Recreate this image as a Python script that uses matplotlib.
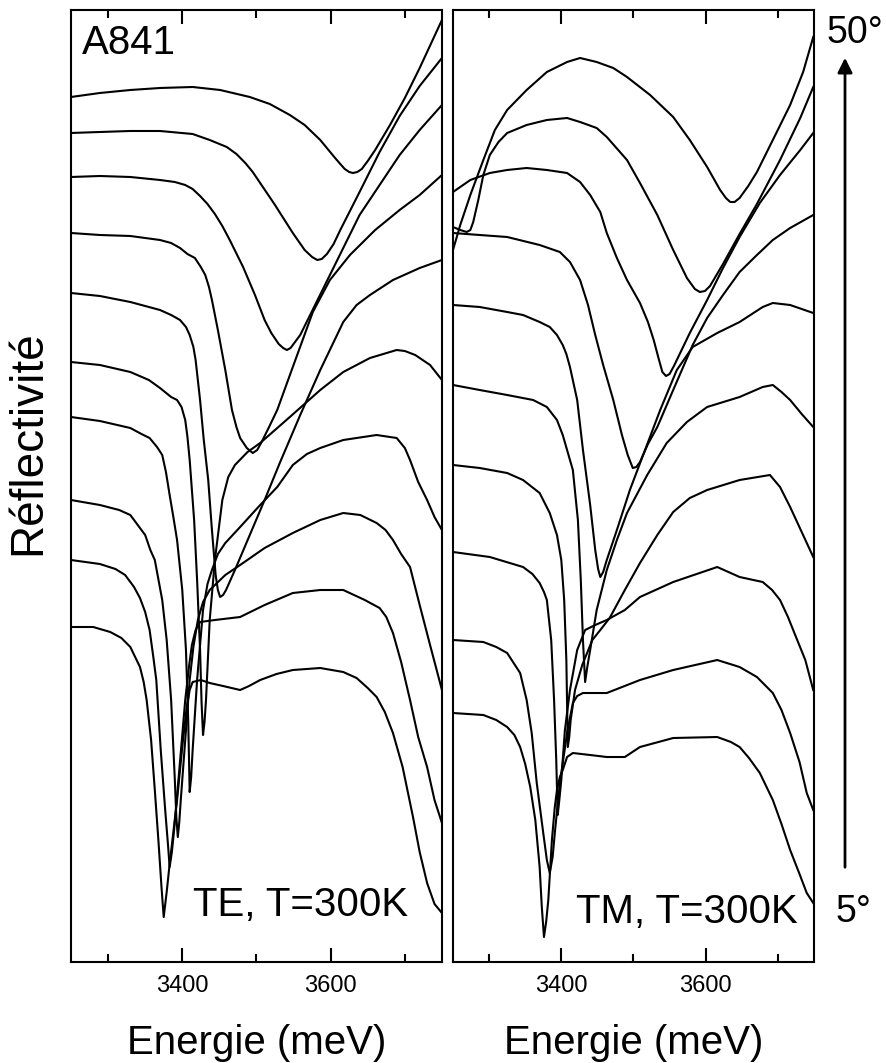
import matplotlib
matplotlib.use("Agg")
import matplotlib.pyplot as plt
from matplotlib.ticker import MultipleLocator

plt.rcParams['font.family'] = ['Liberation Sans', 'DejaVu Sans']

# ---- TE spectra (energy in meV, reflectivity with offset, arb. units), 5deg -> 50deg
te_e = [
    [3250, 3280, 3303, 3318, 3330, 3343, 3348, 3352, 3358, 3363, 3368, 3372, 3375, 3379, 3383, 3388,
     3393, 3400, 3406, 3410, 3414, 3425, 3437, 3455, 3478, 3490, 3505, 3527, 3549, 3586, 3617, 3635,
     3650, 3662, 3673, 3684, 3697, 3711, 3720, 3730, 3740, 3750],
    [3250, 3289, 3310, 3323, 3335, 3343, 3350, 3356, 3361, 3365, 3371, 3377, 3381, 3383, 3386, 3389,
     3396, 3404, 3409, 3413, 3418, 3424, 3444, 3478, 3511, 3549, 3586, 3617, 3646, 3666, 3675, 3684,
     3695, 3707, 3718, 3730, 3740, 3750],
    [3250, 3289, 3315, 3330, 3342, 3350, 3357, 3363, 3368, 3373, 3379, 3385, 3390, 3392, 3394, 3396,
     3398, 3404, 3410, 3415, 3421, 3428, 3437, 3458, 3478, 3511, 3549, 3586, 3617, 3640, 3662, 3674,
     3684, 3695, 3707, 3720, 3734, 3750],
    [3250, 3289, 3330, 3345, 3356, 3366, 3373, 3378, 3383, 3388, 3393, 3400, 3405, 3408, 3410, 3412,
     3414, 3420, 3428, 3434, 3440, 3448, 3458, 3478, 3505, 3528, 3549, 3568, 3586, 3617, 3662, 3689,
     3700, 3707, 3718, 3730, 3740, 3750],
    [3250, 3289, 3330, 3355, 3370, 3385, 3393, 3399, 3404, 3407, 3410, 3416, 3420, 3424, 3426, 3428,
     3430, 3432, 3437, 3444, 3454, 3462, 3471, 3488, 3505, 3545, 3586, 3617, 3653, 3689, 3700, 3714,
     3734, 3750],
    [3250, 3289, 3330, 3370, 3385, 3397, 3405, 3410, 3415, 3418, 3424, 3429, 3435, 3440, 3445, 3448,
     3451, 3455, 3459, 3471, 3491, 3511, 3532, 3559, 3586, 3617, 3635, 3653, 3684, 3720, 3750],
    [3250, 3289, 3330, 3370, 3385, 3397, 3407, 3417, 3425, 3431, 3436, 3440, 3448, 3458, 3467, 3473,
     3478, 3487, 3495, 3501, 3507, 3517, 3528, 3549, 3576, 3599, 3626, 3660, 3693, 3720, 3750],
    [3250, 3289, 3330, 3370, 3390, 3404, 3414, 3424, 3434, 3444, 3454, 3464, 3482, 3498, 3511, 3520,
     3530, 3536, 3541, 3546, 3550, 3559, 3579, 3599, 3619, 3639, 3666, 3693, 3720, 3750],
    [3250, 3289, 3330, 3370, 3414, 3437, 3460, 3473, 3485, 3495, 3505, 3525, 3549, 3565, 3575, 3582,
     3588, 3595, 3604, 3613, 3639, 3666, 3693, 3720, 3750],
    [3250, 3289, 3330, 3370, 3414, 3451, 3491, 3518, 3545, 3565, 3586, 3606, 3613, 3619, 3625, 3630,
     3636, 3642, 3650, 3660, 3680, 3700, 3720, 3750],
]
te_r = [
    [3.35, 3.35, 3.30, 3.24, 3.15, 2.95, 2.80, 2.62, 2.22, 1.72, 1.20, 0.75, 0.45, 0.70, 0.98, 1.30,
     1.62, 2.15, 2.55, 2.72, 2.80, 2.82, 2.79, 2.76, 2.72, 2.76, 2.82, 2.88, 2.92, 2.94, 2.90, 2.84,
     2.74, 2.65, 2.50, 2.29, 1.95, 1.45, 1.10, 0.79, 0.58, 0.49],
    [4.02, 3.98, 3.93, 3.87, 3.75, 3.64, 3.50, 3.32, 3.05, 2.82, 2.12, 1.52, 1.15, 0.95, 1.10, 1.32,
     1.92, 2.62, 2.95, 3.17, 3.32, 3.40, 3.42, 3.45, 3.57, 3.69, 3.72, 3.72, 3.62, 3.54, 3.45, 3.29,
     3.00, 2.62, 2.25, 1.95, 1.62, 1.39],
    [4.62, 4.57, 4.52, 4.47, 4.35, 4.27, 4.12, 4.02, 3.82, 3.62, 3.22, 2.62, 1.82, 1.45, 1.25, 1.40,
     1.62, 2.22, 2.82, 3.15, 3.42, 3.60, 3.72, 3.87, 3.97, 4.14, 4.29, 4.42, 4.49, 4.47, 4.39, 4.32,
     4.22, 4.08, 3.95, 3.57, 3.17, 2.72],
    [5.45, 5.41, 5.34, 5.28, 5.24, 5.15, 5.07, 4.90, 4.67, 4.45, 4.22, 3.72, 3.12, 2.42, 1.70, 1.85,
     2.12, 2.82, 3.52, 3.78, 3.92, 4.08, 4.19, 4.35, 4.57, 4.75, 4.97, 5.08, 5.14, 5.22, 5.27, 5.24,
     5.14, 5.02, 4.80, 4.62, 4.45, 4.32],
    [6.00, 5.97, 5.90, 5.82, 5.74, 5.65, 5.62, 5.55, 5.42, 5.25, 5.02, 4.42, 3.82, 3.12, 2.60, 2.27,
     2.40, 2.62, 3.42, 4.02, 4.62, 4.85, 4.97, 5.10, 5.19, 5.45, 5.72, 5.90, 6.04, 6.12, 6.11, 6.07,
     5.97, 5.82],
    [6.69, 6.66, 6.60, 6.52, 6.47, 6.42, 6.35, 6.27, 6.15, 6.02, 5.62, 5.22, 4.82, 4.32, 3.87, 3.72,
     3.65, 3.67, 3.72, 3.92, 4.27, 4.62, 5.00, 5.47, 5.92, 6.40, 6.57, 6.67, 6.82, 6.94, 7.02],
    [7.29, 7.27, 7.26, 7.22, 7.19, 7.14, 7.08, 7.04, 6.95, 6.87, 6.75, 6.62, 6.32, 5.92, 5.52, 5.35,
     5.24, 5.14, 5.09, 5.12, 5.20, 5.35, 5.52, 5.95, 6.50, 6.82, 7.07, 7.32, 7.52, 7.67, 7.87],
    [7.85, 7.86, 7.85, 7.82, 7.80, 7.77, 7.73, 7.66, 7.58, 7.48, 7.36, 7.22, 6.95, 6.67, 6.42, 6.29,
     6.18, 6.14, 6.12, 6.14, 6.18, 6.27, 6.57, 6.87, 7.17, 7.47, 7.77, 8.07, 8.32, 8.57],
    [8.29, 8.30, 8.31, 8.31, 8.28, 8.22, 8.15, 8.08, 7.99, 7.90, 7.79, 7.57, 7.29, 7.12, 7.05, 7.02,
     7.03, 7.08, 7.18, 7.32, 7.70, 8.10, 8.46, 8.76, 9.04],
    [8.65, 8.69, 8.72, 8.74, 8.75, 8.72, 8.65, 8.58, 8.47, 8.37, 8.22, 8.04, 7.98, 7.93, 7.90, 7.89,
     7.90, 7.93, 8.01, 8.12, 8.37, 8.64, 8.94, 9.42],
]

# ---- TM spectra, 5deg -> 50deg
tm_e = [
    [3250, 3292, 3310, 3325, 3335, 3343, 3350, 3357, 3364, 3370, 3373, 3376, 3379, 3382, 3387, 3391,
     3394, 3398, 3402, 3408, 3416, 3440, 3463, 3488, 3509, 3555, 3616, 3635, 3647, 3660, 3675, 3693,
     3705, 3717, 3730, 3740, 3749],
    [3250, 3292, 3310, 3325, 3343, 3352, 3359, 3366, 3375, 3380, 3384, 3388, 3391, 3398, 3408, 3416,
     3422, 3430, 3463, 3509, 3555, 3616, 3647, 3671, 3693, 3705, 3717, 3730, 3740, 3749],
    [3250, 3301, 3347, 3360, 3370, 3376, 3380, 3386, 3390, 3393, 3395, 3397, 3400, 3405, 3412, 3422,
     3433, 3447, 3463, 3488, 3509, 3555, 3616, 3647, 3679, 3692, 3703, 3714, 3724, 3738, 3749],
    [3250, 3287, 3325, 3347, 3370, 3384, 3394, 3400, 3404, 3407, 3409, 3411, 3413, 3419, 3429, 3443,
     3454, 3467, 3488, 3509, 3533, 3555, 3578, 3602, 3647, 3689, 3703, 3717, 3733, 3749],
    [3250, 3287, 3325, 3361, 3380, 3394, 3402, 3408, 3416, 3423, 3427, 3430, 3433, 3436, 3440, 3449,
     3463, 3477, 3491, 3519, 3546, 3574, 3602, 3647, 3679, 3693, 3705, 3717, 3733, 3749],
    [3250, 3287, 3325, 3347, 3370, 3384, 3394, 3402, 3407, 3412, 3422, 3430, 3440, 3447, 3451, 3454,
     3458, 3463, 3477, 3495, 3516, 3537, 3560, 3582, 3616, 3647, 3679, 3693, 3717, 3749],
    [3250, 3287, 3325, 3370, 3398, 3412, 3426, 3437, 3447, 3458, 3472, 3484, 3492, 3499, 3504, 3509,
     3520, 3533, 3555, 3582, 3602, 3624, 3647, 3671, 3693, 3717, 3749],
    [3250, 3274, 3301, 3325, 3352, 3380, 3408, 3426, 3440, 3454, 3463, 3477, 3491, 3509, 3520, 3528,
     3535, 3540, 3545, 3550, 3556, 3578, 3602, 3624, 3647, 3675, 3703, 3731, 3749],
    [3250, 3260, 3269, 3274, 3278, 3285, 3292, 3301, 3313, 3325, 3352, 3380, 3408, 3426, 3449, 3463,
     3491, 3509, 3533, 3555, 3574, 3585, 3592, 3599, 3606, 3624, 3647, 3671, 3703, 3731, 3749],
    [3250, 3260, 3274, 3292, 3308, 3325, 3352, 3380, 3408, 3426, 3449, 3472, 3491, 3523, 3555, 3578,
     3602, 3620, 3628, 3634, 3640, 3647, 3659, 3671, 3693, 3717, 3735, 3749],
]
tm_r = [
    [2.49, 2.47, 2.42, 2.35, 2.27, 2.15, 1.98, 1.75, 1.42, 0.95, 0.55, 0.25, 0.40, 0.62, 1.22, 1.55,
     1.72, 1.85, 1.92, 2.05, 2.09, 2.07, 2.05, 2.05, 2.15, 2.24, 2.25, 2.20, 2.15, 2.04, 1.89, 1.62,
     1.38, 1.12, 0.88, 0.69, 0.59],
    [3.22, 3.20, 3.15, 3.09, 2.89, 2.62, 2.29, 1.79, 1.29, 1.02, 0.89, 1.05, 1.29, 1.79, 2.29, 2.59,
     2.66, 2.69, 2.69, 2.82, 2.92, 3.02, 2.95, 2.85, 2.69, 2.52, 2.29, 2.00, 1.69, 1.52],
    [4.10, 4.05, 3.95, 3.88, 3.79, 3.70, 3.62, 3.22, 2.62, 2.02, 1.47, 1.60, 1.82, 2.32, 2.72, 3.12,
     3.32, 3.37, 3.42, 3.52, 3.65, 3.80, 3.95, 3.85, 3.80, 3.72, 3.62, 3.45, 3.27, 3.02, 2.72],
    [4.97, 4.94, 4.89, 4.82, 4.69, 4.49, 4.27, 4.02, 3.62, 3.02, 2.15, 2.25, 2.42, 2.72, 2.97, 3.22,
     3.32, 3.44, 3.72, 3.99, 4.27, 4.50, 4.64, 4.72, 4.82, 4.87, 4.75, 4.55, 4.30, 4.05],
    [5.77, 5.72, 5.67, 5.62, 5.55, 5.42, 5.27, 5.12, 4.92, 4.42, 3.82, 3.22, 2.80, 2.95, 3.12, 3.52,
     3.92, 4.22, 4.49, 4.87, 5.19, 5.40, 5.55, 5.65, 5.75, 5.77, 5.70, 5.62, 5.48, 5.35],
    [6.57, 6.55, 6.50, 6.47, 6.40, 6.35, 6.27, 6.17, 6.08, 5.95, 5.62, 5.12, 4.57, 4.12, 3.93, 3.85,
     3.90, 4.02, 4.32, 4.72, 5.12, 5.52, 5.92, 6.15, 6.29, 6.40, 6.55, 6.59, 6.57, 6.49],
    [7.29, 7.27, 7.25, 7.17, 7.10, 7.00, 6.82, 6.57, 6.27, 5.97, 5.62, 5.27, 5.07, 4.94, 4.95, 5.00,
     5.18, 5.35, 5.72, 6.17, 6.44, 6.67, 6.90, 7.07, 7.22, 7.34, 7.47],
    [7.70, 7.82, 7.89, 7.92, 7.94, 7.92, 7.89, 7.80, 7.67, 7.50, 7.29, 7.04, 6.82, 6.59, 6.40, 6.22,
     6.03, 5.90, 5.86, 5.88, 5.96, 6.29, 6.62, 6.94, 7.25, 7.59, 7.87, 8.12, 8.29],
    [7.35, 7.32, 7.30, 7.32, 7.40, 7.62, 7.87, 8.07, 8.20, 8.29, 8.37, 8.42, 8.44, 8.40, 8.34, 8.25,
     8.02, 7.79, 7.47, 7.12, 6.84, 6.73, 6.70, 6.71, 6.76, 6.98, 7.28, 7.58, 8.02, 8.44, 8.75],
    [7.12, 7.37, 7.67, 8.02, 8.32, 8.52, 8.72, 8.90, 9.00, 9.04, 9.00, 8.94, 8.85, 8.67, 8.45, 8.22,
     7.95, 7.72, 7.64, 7.60, 7.60, 7.64, 7.76, 7.90, 8.22, 8.57, 8.90, 9.25],
]

fig = plt.figure(figsize=(8.86, 10.63), dpi=100)
ax1 = fig.add_axes([0.0801, 0.0950, 0.4187, 0.8956])
ax2 = fig.add_axes([0.5113, 0.0950, 0.4074, 0.8956])

for ax, es, rs in ((ax1, te_e, te_r), (ax2, tm_e, tm_r)):
    for e, r in zip(es, rs):
        ax.plot(e, r, color='black', lw=1.5)
    ax.set_xlim(3250, 3750)
    ax.set_ylim(0, 9.52)
    ax.xaxis.set_major_locator(MultipleLocator(200))
    ax.xaxis.set_minor_locator(MultipleLocator(100))
    ax.tick_params(axis='x', which='both', direction='in', top=True, bottom=True,
                   width=1.5, labelsize=17, pad=9)
    ax.tick_params(axis='x', which='major', length=10)
    ax.tick_params(axis='x', which='minor', length=5.5)
    ax.set_yticks([])
    for s in ax.spines.values():
        s.set_linewidth(1.5)
    ax.set_xlabel('Energie (meV)', fontsize=29, labelpad=20)

fig.text(28 / 886, 1 - 443 / 1063, 'Réflectivité', fontsize=33, rotation=90,
         ha='center', va='center')

ax1.text(0.03, 0.985, 'A841', transform=ax1.transAxes, fontsize=29, va='top', ha='left')
ax1.text(0.33, 0.06, 'TE, T=300K', transform=ax1.transAxes, fontsize=29, va='center', ha='left')
ax2.text(0.34, 0.053, 'TM, T=300K', transform=ax2.transAxes, fontsize=29, va='center', ha='left')

fig.text(827 / 886, 1 - 33 / 1063, '50°', fontsize=27, va='center', ha='left')
fig.text(836 / 886, 1 - 912 / 1063, '5°', fontsize=27, va='center', ha='left')
fig.add_artist(matplotlib.patches.FancyArrowPatch(
    (845 / 886, 1 - 870 / 1063), (845 / 886, 1 - 55 / 1063), transform=fig.transFigure,
    arrowstyle='-|>', mutation_scale=22, lw=2, color='black'))

fig.savefig('out.png', dpi=100)
